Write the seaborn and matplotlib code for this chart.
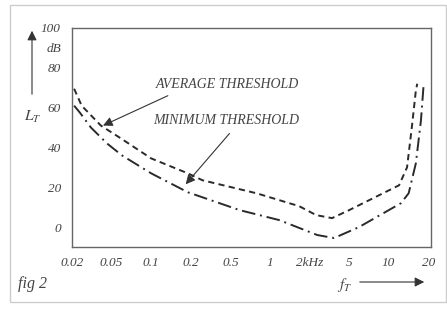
import numpy as np
import pandas as pd
import matplotlib
matplotlib.use("Agg")
import matplotlib.pyplot as plt
from matplotlib.patches import Rectangle, FancyArrowPatch
import seaborn as sns

# ---- data (frequency in kHz, level in dB) ----
tick_freqs = [0.02, 0.05, 0.1, 0.2, 0.5, 1, 2, 5, 10, 20]
tick_labels = ["0.02", "0.05", "0.1", "0.2", "0.5", "1", "2kHz", "5", "10", "20"]

avg_freq = [0.021, 0.025, 0.039, 0.059, 0.1, 0.19, 0.263, 0.79, 1.67, 2.34, 3.37, 5.0, 12.0, 13.8, 15.0, 16.1, 16.5]
avg_db = [69.5, 61, 51, 44.5, 34.5, 27, 23.5, 17, 10.5, 6, 4.5, 8.5, 21, 30, 50, 68.5, 72]

min_freq = [0.021, 0.024, 0.031, 0.045, 0.06, 0.1, 0.19, 0.59, 1.18, 2.4, 3.53, 5.95, 12.4, 14.2, 16.1, 17.6, 18.5]
min_db = [61, 57.5, 50, 42, 36, 27, 17.5, 8.5, 3.5, -4, -5.5, 0, 12, 17, 32, 53.5, 72.5]

y_ticks = [-10, 0, 10, 20, 30, 40, 50, 60, 70, 80, 90, 100]
y_labels = ["", "0", "", "20", "", "40", "", "60", "", "80", "dB", "100"]

df = pd.concat([
    pd.DataFrame({"f": avg_freq, "L": avg_db, "series": "AVERAGE THRESHOLD"}),
    pd.DataFrame({"f": min_freq, "L": min_db, "series": "MINIMUM THRESHOLD"}),
], ignore_index=True)

sns.set_style("white")
plt.rcParams["font.family"] = ["Liberation Serif", "DejaVu Serif"]
plt.rcParams["font.style"] = "italic"
plt.rcParams["mathtext.fontset"] = "stix"

TXT = "#444444"
AX = "#666666"

fig = plt.figure(figsize=(4.47, 3.12), dpi=100)
# paper frame
fig.patches.append(Rectangle((10 / 447, 10 / 312), 436 / 447, 297 / 312, transform=fig.transFigure,
                             fill=False, edgecolor="#cccccc", lw=1.0))
ax = fig.add_axes([72 / 447, 1 - 247 / 312, 359 / 447, 219 / 312])

# piecewise-log frequency axis (evenly spaced marks as in the drawing)
lf = np.log10(tick_freqs)
lf_ext = np.concatenate([[lf[0] - 1.0], lf, [lf[-1] + 1.0]])
ix_ext = np.concatenate([[-1.0 / np.log10(2.5)], np.arange(len(lf)), [len(lf) - 1 + 1.0 / np.log10(2.0)]])


def fwd(x):
    x = np.asarray(x, dtype=float)
    with np.errstate(divide="ignore", invalid="ignore"):
        lx = np.log10(np.where(x > 0, x, 1e-9))
    return np.interp(lx, lf_ext, ix_ext)


def inv(i):
    return 10 ** np.interp(np.asarray(i, dtype=float), ix_ext, lf_ext)


ax.set_xscale("function", functions=(fwd, inv))

sns.lineplot(data=df, x="f", y="L", style="series",
             dashes={"AVERAGE THRESHOLD": (3.2, 2.2), "MINIMUM THRESHOLD": (7.0, 2.5, 1.0, 2.5)},
             color="#2a2a2a", lw=1.4, legend=False, ax=ax, sort=False)

ax.set_xlim(0.02, inv(9.07))
ax.set_ylim(-10, 100)
ax.set_xticks(tick_freqs)
ax.set_xticklabels(tick_labels)
ax.minorticks_off()
ax.set_yticks(y_ticks)
ax.set_yticklabels(y_labels)
ax.tick_params(direction="in", length=5, width=0.8, color=AX, labelcolor=TXT, labelsize=9.5)
ax.tick_params(axis="x", pad=7)
ax.tick_params(axis="y", pad=8)
for s in ax.spines.values():
    s.set_color(AX)
    s.set_linewidth(1.0)
ax.set_xlabel("")
ax.set_ylabel("")

# annotations
ax.text(0.47, 71.5, "AVERAGE THRESHOLD", ha="center", va="center", fontsize=10, color=TXT)
ax.text(0.45, 53.5, "MINIMUM THRESHOLD", ha="center", va="center", fontsize=10, color=TXT)
arrow_kw = dict(arrowstyle="-|>", color="#333333", lw=0.8, mutation_scale=14, shrinkA=0, shrinkB=0)
ax.annotate("", xy=(0.041, 51), xytext=(0.134, 66), arrowprops=arrow_kw)
ax.annotate("", xy=(0.183, 21.5), xytext=(0.49, 47), arrowprops=arrow_kw)

# axis quantity labels with arrows
fig.text(24 / 447, 1 - 117 / 312, r"$L_T$", fontsize=11, color=TXT, ha="left", va="center")
fig.add_artist(FancyArrowPatch((32 / 447, 1 - 97 / 312), (32 / 447, 1 - 28 / 312),
                               transform=fig.transFigure, arrowstyle="-|>",
                               mutation_scale=14, color="#333333", lw=0.8))
fig.text(345 / 447, 1 - 285 / 312, r"$f_T$", fontsize=11, color=TXT, ha="center", va="center")
fig.add_artist(FancyArrowPatch((357 / 447, 1 - 282 / 312), (427 / 447, 1 - 282 / 312),
                               transform=fig.transFigure, arrowstyle="-|>",
                               mutation_scale=14, color="#333333", lw=0.8))
fig.text(18 / 447, 1 - 284 / 312, "fig 2", fontsize=11.5, color=TXT, ha="left", va="center")

fig.savefig("out.png", dpi=100)
